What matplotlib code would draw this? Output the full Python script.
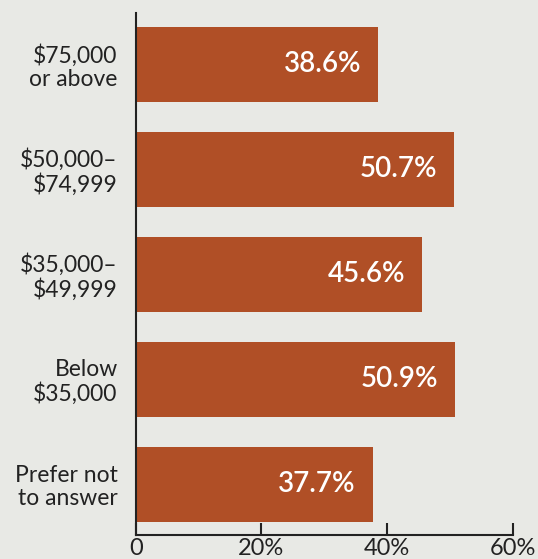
import matplotlib.pyplot as plt

# === DATA ===
categories = ["$75,000\nor above", "$50,000\u2013\n$74,999", "$35,000\u2013\n$49,999",
              "Below\n$35,000", "Prefer not\nto answer"]
values = [38.6, 50.7, 45.6, 50.9, 37.7]
xticks = [0, 20, 40, 60]
xtick_labels = ["0", "20%", "40%", "60%"]

bg = "#e8e9e5"
bar_color = "#b04f26"

plt.rcParams['font.family'] = ['Lato', 'DejaVu Sans']

fig = plt.figure(figsize=(5.38, 5.59), dpi=100, facecolor=bg)
ax = fig.add_axes([0.2522, 0.0429, 0.7007, 0.9344], facecolor=bg)

ypos = list(range(len(categories)))
ax.barh(ypos, values, height=0.714, color=bar_color)

# value labels inside bars
for y, v in zip(ypos, values):
    ax.text(v - 2.7, y, f"{v:.1f}%", ha='right', va='center',
            color='white', fontsize=20, fontweight='semibold')

ax.set_xlim(0, 60)
ax.set_ylim(4.484, -0.49)
ax.set_xticks(xticks)
ax.set_xticklabels(xtick_labels, fontsize=17, color='#222222')
ax.set_yticks(ypos)
ax.set_yticklabels(categories, fontsize=16.5, color='#222222', linespacing=1.12)

ax.tick_params(axis='x', direction='in', length=8.5, width=1.5, color='#222222', pad=2.5)
ax.tick_params(axis='y', length=0, pad=13)

for s in ['top', 'right']:
    ax.spines[s].set_visible(False)
for s in ['left', 'bottom']:
    ax.spines[s].set_linewidth(1.5)
    ax.spines[s].set_color('#222222')

plt.savefig("out.png", dpi=100, facecolor=bg)
